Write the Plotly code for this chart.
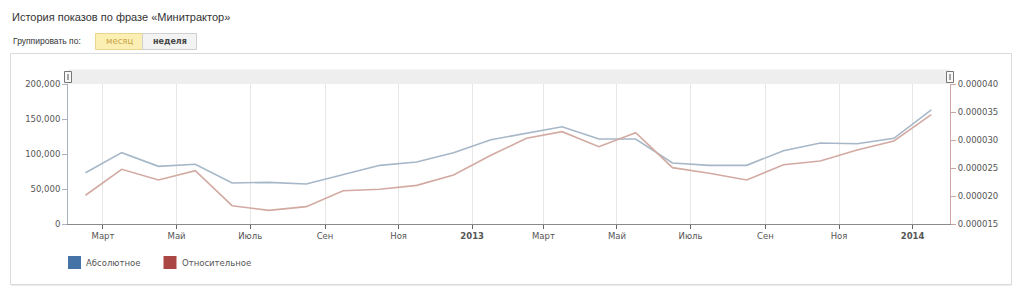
import plotly.graph_objects as go

# ---------------- data ----------------
months = ["2012-02-01", "2012-03-01", "2012-04-01", "2012-05-01", "2012-06-01", "2012-07-01",
          "2012-08-01", "2012-09-01", "2012-10-01", "2012-11-01", "2012-12-01", "2013-01-01",
          "2013-02-01", "2013-03-01", "2013-04-01", "2013-05-01", "2013-06-01", "2013-07-01",
          "2013-08-01", "2013-09-01", "2013-10-01", "2013-11-01", "2013-12-01", "2014-01-01"]
absolute = [73300, 101900, 82400, 85300, 58600, 59500, 57100, 71000, 83800, 88600, 101900, 120400,
            130000, 139000, 121400, 121400, 87100, 83800, 83800, 104700, 115700, 114700, 122400, 162900]
relative = [2.013e-5, 2.477e-5, 2.286e-5, 2.452e-5, 1.827e-5, 1.744e-5, 1.810e-5, 2.095e-5,
            2.120e-5, 2.190e-5, 2.375e-5, 2.727e-5, 3.030e-5, 3.149e-5, 2.881e-5, 3.130e-5,
            2.506e-5, 2.405e-5, 2.286e-5, 2.559e-5, 2.625e-5, 2.822e-5, 2.982e-5, 3.452e-5]
tick_dates = ["2012-03-01", "2012-05-01", "2012-07-01", "2012-09-01", "2012-11-01", "2013-01-01",
              "2013-03-01", "2013-05-01", "2013-07-01", "2013-09-01", "2013-11-01", "2014-01-01"]
tick_labels = ["Март", "Май", "Июль", "Сен", "Ноя", "<b>2013</b>",
               "Март", "Май", "Июль", "Сен", "Ноя", "<b>2014</b>"]
left_ticks = [0, 50000, 100000, 150000, 200000]
right_ticks = [0.000015, 0.000020, 0.000025, 0.000030, 0.000035, 0.000040]
series_names = ["Абсолютное", "Относительное"]
title_text = "История показов по фразе «Минитрактор»"
group_label = "Группировать по:"
buttons = ["месяц", "неделя"]

# ---------------- layout geometry (pixels) ----------------
W_PX, H_PX = 1024, 295
L, R, T, B = 68, 950, 84, 224
PW, PH = R - L, B - T


def px(x):
    return (x - L) / PW


def py(y):
    return (B - y) / PH


fig = go.Figure()
fig.add_trace(go.Scatter(
    x=months, y=absolute, name=series_names[0], mode="lines",
    xperiod="M1", xperiodalignment="middle",
    line=dict(color="#a6b7c8", width=1.6), yaxis="y", showlegend=False,
))
fig.add_trace(go.Scatter(
    x=months, y=relative, name=series_names[1], mode="lines",
    xperiod="M1", xperiodalignment="middle",
    line=dict(color="#d2aaa2", width=1.6), yaxis="y2", showlegend=False,
))

tick_font = dict(family="DejaVu Sans", size=8.5, color="#555555")

shapes = []
# container border
shapes.append(dict(type="rect", xref="paper", yref="paper",
                   x0=px(10.5), x1=px(1011.5), y0=py(284.5), y1=py(53.5),
                   line=dict(color="#dadada", width=1), fillcolor="rgba(0,0,0,0)", layer="below"))
shapes.append(dict(type="line", xref="paper", yref="paper",
                   x0=px(11), x1=px(1012), y0=py(285.5), y1=py(285.5),
                   line=dict(color="#ececec", width=1), layer="below"))
# navigator band
shapes.append(dict(type="rect", xref="paper", yref="paper",
                   x0=px(L), x1=px(R), y0=py(84), y1=py(69.5),
                   line=dict(width=0), fillcolor="#eeeeee", layer="below"))
# handles
for hx in (L, R):
    shapes.append(dict(type="rect", xref="paper", yref="paper",
                       x0=px(hx - 3.5), x1=px(hx + 3.5), y0=py(82.5), y1=py(71.5),
                       line=dict(color="#777777", width=1), fillcolor="#f8f8f8"))
    shapes.append(dict(type="line", xref="paper", yref="paper",
                       x0=px(hx), x1=px(hx), y0=py(80), y1=py(74),
                       line=dict(color="#555555", width=1)))
# buttons
shapes.append(dict(type="rect", xref="paper", yref="paper",
                   x0=px(95.5), x1=px(142.5), y0=py(49.5), y1=py(33.5),
                   line=dict(color="#e8d690", width=1), fillcolor="#fcefb4"))
shapes.append(dict(type="rect", xref="paper", yref="paper",
                   x0=px(142.5), x1=px(196.5), y0=py(49.5), y1=py(33.5),
                   line=dict(color="#d0d0d0", width=1), fillcolor="#f3f3f3"))
# legend squares
shapes.append(dict(type="rect", xref="paper", yref="paper",
                   x0=px(68), x1=px(81), y0=py(269), y1=py(256),
                   line=dict(width=0), fillcolor="#4572a7"))
shapes.append(dict(type="rect", xref="paper", yref="paper",
                   x0=px(163.5), x1=px(176.5), y0=py(269), y1=py(256),
                   line=dict(width=0), fillcolor="#aa4643"))

annotations = [
    dict(text=title_text, xref="paper", yref="paper", x=px(10), y=py(17),
         xanchor="left", yanchor="middle", showarrow=False,
         font=dict(family="Liberation Sans", size=11, color="#333333")),
    dict(text=group_label, xref="paper", yref="paper", x=px(11), y=py(41),
         xanchor="left", yanchor="middle", showarrow=False,
         font=dict(family="Liberation Sans", size=8.5, color="#333333")),
    dict(text=buttons[0], xref="paper", yref="paper", x=px(119), y=py(41.5),
         xanchor="center", yanchor="middle", showarrow=False,
         font=dict(family="DejaVu Sans", size=8.5, color="#c9a444")),
    dict(text="<b>" + buttons[1] + "</b>", xref="paper", yref="paper", x=px(169.5), y=py(41.5),
         xanchor="center", yanchor="middle", showarrow=False,
         font=dict(family="DejaVu Sans", size=8, color="#444444")),
    dict(text=series_names[0], xref="paper", yref="paper", x=px(84), y=py(263),
         xanchor="left", yanchor="middle", showarrow=False,
         font=dict(family="DejaVu Sans", size=8.5, color="#555555")),
    dict(text=series_names[1], xref="paper", yref="paper", x=px(179.5), y=py(263),
         xanchor="left", yanchor="middle", showarrow=False,
         font=dict(family="DejaVu Sans", size=8.5, color="#555555")),
]

fig.update_layout(
    width=W_PX, height=H_PX,
    margin=dict(l=L, r=W_PX - R, t=T, b=H_PX - B, pad=0),
    paper_bgcolor="white", plot_bgcolor="white",
    showlegend=False,
    xaxis=dict(
        type="date", range=["2012-02-01", "2014-02-01"],
        tickmode="array", tickvals=tick_dates, ticktext=tick_labels,
        showgrid=True, gridcolor="#e6e6e6", gridwidth=1,
        showline=True, linecolor="#8a8a8a", linewidth=1,
        ticks="outside", ticklen=4, tickcolor="#666666",
        tickfont=tick_font, zeroline=False, fixedrange=True,
    ),
    yaxis=dict(
        range=[0, 200000], tickmode="array", tickvals=left_ticks, tickformat=",d",
        showgrid=False, zeroline=False,
        showline=True, linecolor="#a8b4c0", linewidth=1,
        ticks="outside", ticklen=5, tickcolor="#a8b4c0",
        tickfont=tick_font, fixedrange=True,
    ),
    yaxis2=dict(
        range=[0.000015, 0.000040], tickmode="array", tickvals=right_ticks, tickformat=".6f",
        overlaying="y", side="right",
        showgrid=False, zeroline=False,
        showline=True, linecolor="#caa6a6", linewidth=1,
        ticks="outside", ticklen=5, tickcolor="#caa6a6",
        tickfont=tick_font, fixedrange=True,
    ),
    shapes=shapes,
    annotations=annotations,
)

fig.write_html("out.html")
